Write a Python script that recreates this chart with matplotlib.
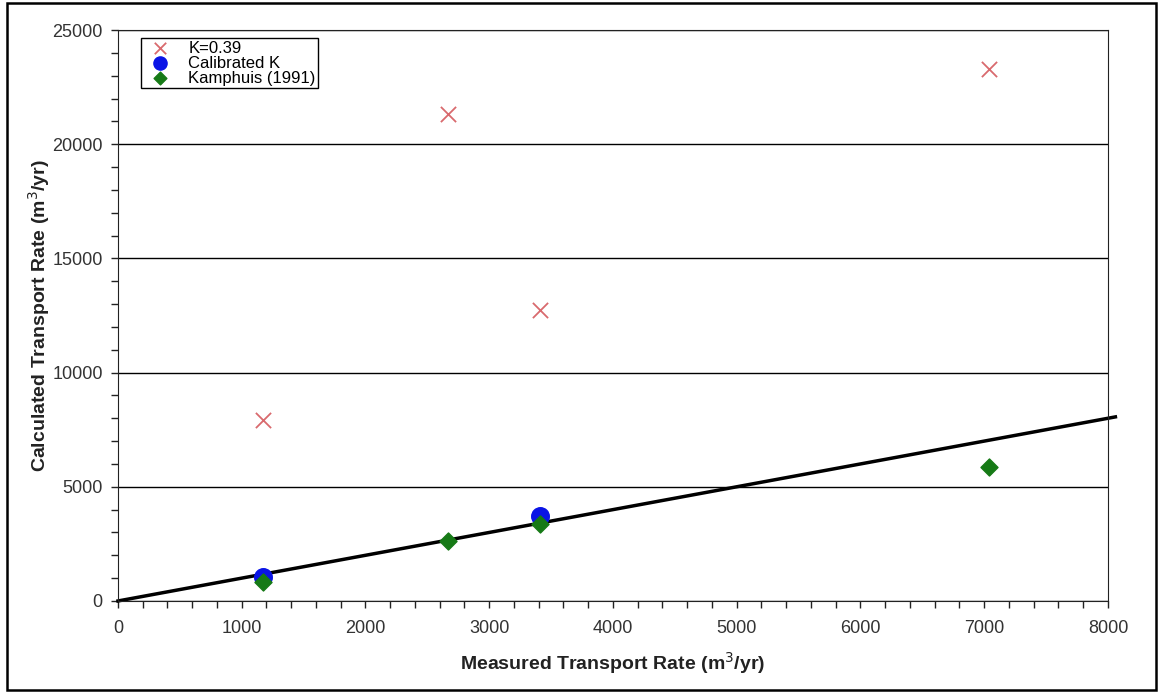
import numpy as np
import matplotlib
matplotlib.use("Agg")
import matplotlib.pyplot as plt
from matplotlib.patches import Rectangle

plt.rcParams['font.family'] = ['Liberation Sans', 'DejaVu Sans']

# measured rates (m3/yr)
measured = [1175, 2665, 3410, 7040]
k039 = [7930, 21320, 12750, 23290]
calib_x = [1175, 3410]
calib_k = [1050, 3720]
kamphuis = [850, 2640, 3380, 5870]
line_end = 8060

fig = plt.figure(figsize=(11.58, 6.93), dpi=100)
ax = fig.add_axes([0.1019, 0.1328, 0.8549, 0.8239])

ax.plot([0, line_end], [0, line_end], color='black', lw=2.5, clip_on=False, zorder=2)
ax.scatter(measured, k039, marker='x', s=120, color='#d96a6e', linewidths=1.3,
           label='K=0.39', zorder=3)
ax.scatter(calib_x, calib_k, marker='o', s=160, color='#0a14e6', label='Calibrated K', zorder=3)
ax.scatter(measured, kamphuis, marker='D', s=75, color='#167a16', label='Kamphuis (1991)', zorder=4)

ax.set_xlim(0, 8000)
ax.set_ylim(0, 25000)
ax.set_xticks(np.arange(0, 8001, 1000))
ax.set_xticks(np.arange(0, 8001, 200), minor=True)
ax.set_yticks(np.arange(0, 25001, 5000))
ax.set_yticks(np.arange(0, 25001, 1000), minor=True)
ax.tick_params(which='both', direction='out', length=5, width=1, labelsize=13,
               colors='#222222', labelcolor='#333333')
ax.tick_params(axis='x', which='major', pad=9)
ax.tick_params(axis='y', which='major', pad=6)
ax.yaxis.grid(True, color='black', lw=1)
ax.set_axisbelow(True)
for s in ax.spines.values():
    s.set_color('#222222')

ax.set_xlabel('Measured Transport Rate (m$^3$/yr)', fontsize=14, fontweight='bold',
              labelpad=9, color='#222222')
ax.set_ylabel('Calculated Transport Rate (m$^3$/yr)', fontsize=14, fontweight='bold',
              labelpad=0, color='#222222')

leg = ax.legend(loc='upper left', bbox_to_anchor=(0.023, 0.986), fontsize=12, frameon=True,
                fancybox=False, edgecolor='black', framealpha=1, borderpad=0.15,
                labelspacing=0.0, handletextpad=0.7, handlelength=2.0, borderaxespad=0,
                markerscale=0.75)
leg.get_frame().set_linewidth(1)

fig.patches.append(Rectangle((7 / 1158, 3 / 693), 1149 / 1158, 687 / 693, transform=fig.transFigure,
                             fill=False, edgecolor='black', lw=1.8))

fig.savefig('out.png', dpi=100)
